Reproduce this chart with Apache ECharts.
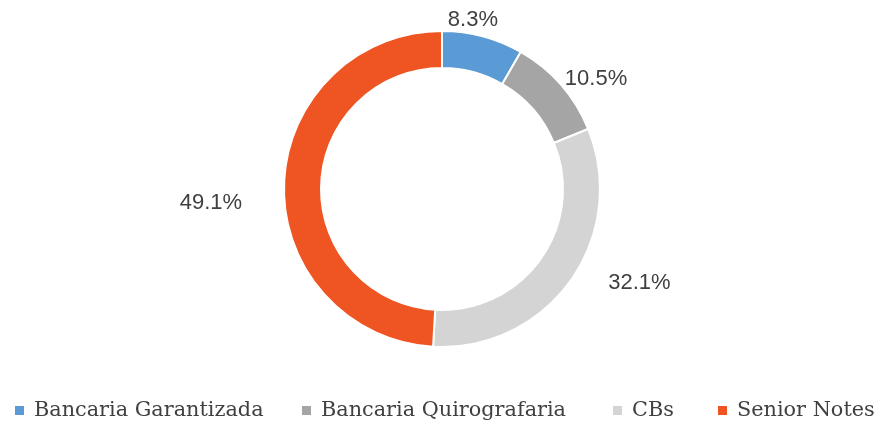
<!DOCTYPE html>
<html>
<head>
<meta charset="utf-8">
<script src="https://cdn.jsdelivr.net/npm/echarts@6/dist/echarts.min.js"></script>
<style>
  html, body { margin: 0; padding: 0; background: #ffffff; }
  #chart { width: 875px; height: 424px; }
</style>
</head>
<body>
<div id="chart"></div>
<script>
// Funding mix by instrument (share of total, %)
const categories = ['Bancaria Garantizada', 'Bancaria Quirografaria', 'CBs', 'Senior Notes'];
const shares = [8.3, 10.5, 32.1, 49.1];
const colors = ['#5B9BD5', '#A5A5A5', '#D4D4D4', '#EF5423'];

// Nudges for the outside labels, relative to the default pie placement
const labelNudge = [[-42, -9], [-7, -1], [26, -2], [-29, 19]];
// Left edge of each legend entry
const legendLeft = [13, 300, 611, 716];

const chart = echarts.init(document.getElementById('chart'), null, { renderer: 'canvas' });

const legends = categories.map((name, i) => ({
  data: [name],
  left: legendLeft[i],
  top: 400,
  padding: 0,
  orient: 'horizontal',
  icon: 'rect',
  itemWidth: 11,
  itemHeight: 11,
  selectedMode: false,
  textStyle: {
    fontFamily: 'DejaVu Serif',
    fontSize: 20.8,
    color: '#404040',
    padding: [0, 0, 0, 4]
  }
}));

chart.setOption({
  animation: false,
  color: colors,
  legend: legends,
  series: [{
    type: 'pie',
    center: [442, 189],
    radius: [121, 158],
    startAngle: 90,
    clockwise: true,
    avoidLabelOverlap: false,
    itemStyle: { borderColor: '#ffffff', borderWidth: 2 },
    label: {
      show: true,
      position: 'outside',
      formatter: p => p.value.toFixed(1) + '%',
      fontFamily: 'Liberation Sans',
      fontSize: 22,
      color: '#404040'
    },
    labelLine: { show: false, length: 8, length2: 0 },
    labelLayout: params => ({ dx: labelNudge[params.dataIndex][0], dy: labelNudge[params.dataIndex][1] }),
    emphasis: { disabled: true },
    data: categories.map((name, i) => ({ name, value: shares[i] }))
  }]
});
</script>
</body>
</html>
